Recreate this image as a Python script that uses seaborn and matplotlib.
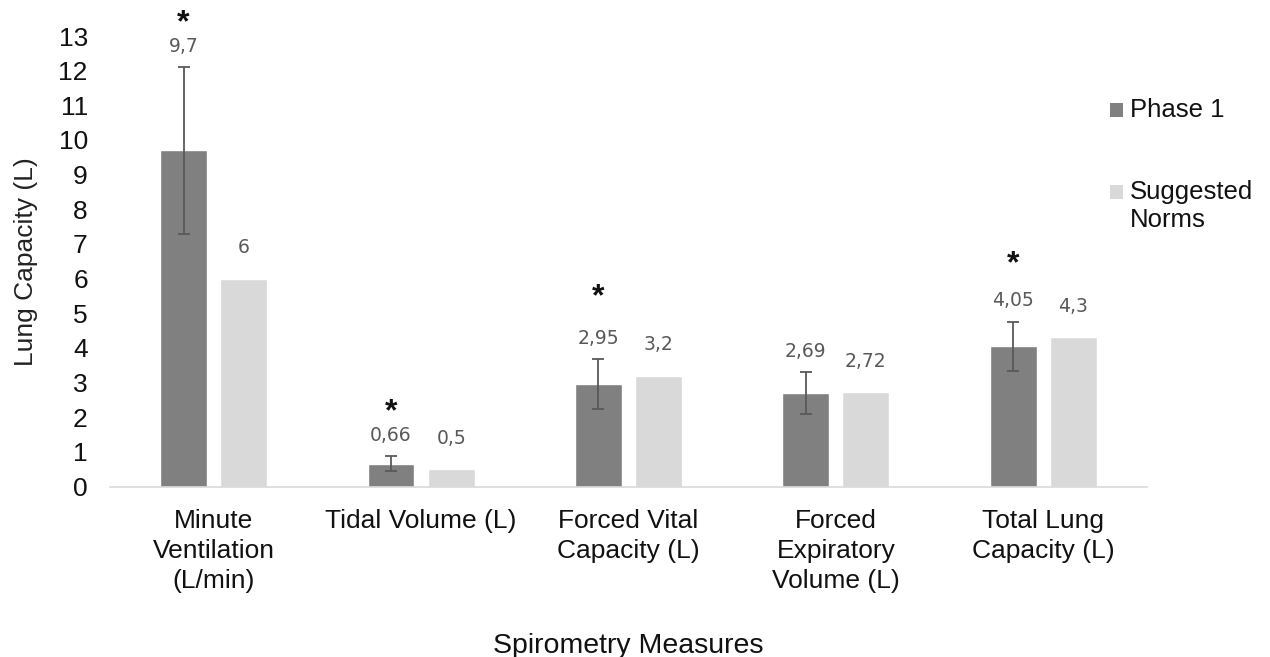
import matplotlib
matplotlib.use("Agg")
import matplotlib.pyplot as plt
from matplotlib.patches import Rectangle
import seaborn as sns
import pandas as pd

# Spirometry measures and values
measures = [
    "Minute\nVentilation\n(L/min)",
    "Tidal Volume (L)",
    "Forced Vital\nCapacity (L)",
    "Forced\nExpiratory\nVolume (L)",
    "Total Lung\nCapacity (L)",
]
phase1 = [9.7, 0.66, 2.95, 2.69, 4.05]
phase1_err = [2.4, 0.22, 0.72, 0.6, 0.71]
norms = [6, 0.5, 3.2, 2.72, 4.3]
significant = [True, True, True, False, True]
series_names = ["Phase 1", "Suggested\nNorms"]
colors = ["#808080", "#d9d9d9"]

# height of each significance star above its error bar, in pixels
star_lift_px = [49, 49, 67, 0, 62]

df = pd.DataFrame({
    "measure": measures * 2,
    "value": phase1 + norms,
    "group": [series_names[0]] * len(measures) + [series_names[1]] * len(measures),
})

sns.set_theme(style="white")
plt.rcParams["font.family"] = ["Liberation Sans", "DejaVu Sans"]

DPI = 100
PX = 72 / DPI  # points per pixel

fig = plt.figure(figsize=(12.7, 6.57), dpi=DPI)
ax = fig.add_axes([0.0866, 0.2595, 0.8165, 0.6857])

sns.barplot(data=df, x="measure", y="value", hue="group", palette=colors,
            width=0.58, gap=0.22, errorbar=None, legend=False, ax=ax,
            saturation=1)

ax.set_ylim(0, 13)
ax.set_xlim(-0.5, len(measures) - 0.5)
ax.set_yticks(range(0, 14))

for s in ["top", "right", "left"]:
    ax.spines[s].set_visible(False)
ax.spines["bottom"].set_color("#d9d9d9")
ax.spines["bottom"].set_linewidth(1.2)
ax.tick_params(axis="y", length=0, pad=16, labelsize=19, labelcolor="#111111")
ax.tick_params(axis="x", length=0, pad=16, labelsize=19, labelcolor="#111111")
for lbl in ax.get_xticklabels():
    lbl.set_linespacing(1.32)

ax.set_xlabel("Spirometry Measures", fontsize=20.5, color="#111111")
ax.xaxis.set_label_coords(0.5, -0.353)
ax.xaxis.label.set_verticalalignment("center")
ax.set_ylabel("Lung Capacity (L)", fontsize=19, color="#222222")
ax.yaxis.set_label_coords(-0.081, 0.5)
ax.yaxis.label.set_verticalalignment("center")


def fmt(v):
    return f"{v:g}".replace(".", ",")


label_font = ["DejaVu Sans"]
p1_bars = ax.containers[0]
nm_bars = ax.containers[1]

for i, bar in enumerate(p1_bars):
    xc = bar.get_x() + bar.get_width() / 2
    top = phase1[i] + phase1_err[i]
    ax.errorbar(xc, phase1[i], yerr=phase1_err[i], fmt="none",
                ecolor="#595959", elinewidth=1.3, capsize=4.5, capthick=1.3)
    ax.annotate(fmt(phase1[i]), (xc, top), xytext=(0, 21 * PX),
                textcoords="offset points", ha="center", va="center",
                fontsize=13.5, color="#595959", family=label_font)
    if significant[i]:
        ax.annotate("*", (xc, top), xytext=(0, (star_lift_px[i] - 5) * PX),
                    textcoords="offset points", ha="center", va="center",
                    fontsize=23, fontweight="bold", color="#111111",
                    annotation_clip=False)

for i, bar in enumerate(nm_bars):
    xc = bar.get_x() + bar.get_width() / 2
    ax.annotate(fmt(norms[i]), (xc, norms[i]), xytext=(0, 31 * PX),
                textcoords="offset points", ha="center", va="center",
                fontsize=13.5, color="#595959", family=label_font)

# legend: square markers with labels on the right of the plot
W, H = fig.get_size_inches() * DPI
legend_rows = [(110, 110), (192, 206)]  # (marker centre y, text centre y) in px
for (my, ty), name, c in zip(legend_rows, series_names, colors):
    fig.add_artist(Rectangle(((1110) / W, 1 - (my + 7) / H), 13 / W, 14 / H,
                             transform=fig.transFigure, color=c, lw=0))
    fig.text(1130 / W, 1 - ty / H, name, fontsize=18.5, color="#111111",
             ha="left", va="center", linespacing=1.25)

fig.savefig("out.png", dpi=DPI, facecolor="white")
